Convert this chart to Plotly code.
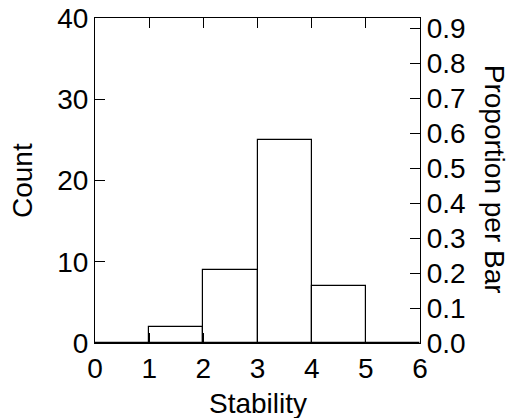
import plotly.graph_objects as go

bin_starts = [0, 1, 2, 3, 4, 5]
counts = [0, 2, 9, 25, 7, 0]
x_tick_vals = [0, 1, 2, 3, 4, 5, 6]
count_ticks = [0, 10, 20, 30, 40]
prop_ticks = [0.0, 0.1, 0.2, 0.3, 0.4, 0.5, 0.6, 0.7, 0.8, 0.9]

total = sum(counts)
centers = [b + 0.5 for b in bin_starts]
props = [c / total for c in counts]

FONT = "Liberation Sans, Arial, sans-serif"
FS = 28

fig = go.Figure()
fig.add_trace(go.Bar(
    x=centers, y=counts, width=1,
    marker=dict(color="white", line=dict(color="black", width=1.2)),
    showlegend=False, hoverinfo="skip",
))
fig.add_trace(go.Scatter(
    x=centers, y=props, yaxis="y2", mode="markers",
    marker=dict(opacity=0), showlegend=False, hoverinfo="skip",
))

fig.update_layout(
    width=512, height=418,
    margin=dict(l=95, r=92, t=18, b=75),
    paper_bgcolor="white", plot_bgcolor="white",
    font=dict(family=FONT, size=FS, color="black"),
    bargap=0,
    xaxis=dict(
        range=[0, 6], tickvals=x_tick_vals, ticks="inside", ticklen=10,
        tickcolor="black", showline=True, linecolor="black", linewidth=1.2,
        mirror="ticks", showgrid=False, zeroline=False,
        tickfont=dict(size=FS), automargin=False, ticklabelstandoff=0,
    ),
    yaxis=dict(
        range=[0, 40], tickvals=count_ticks, ticks="inside", ticklen=10,
        tickcolor="black", showline=True, linecolor="black", linewidth=1.2,
        mirror=False, showgrid=False, zeroline=False,
        tickfont=dict(size=FS), automargin=False, ticklabelstandoff=0,
    ),
    yaxis2=dict(
        overlaying="y", side="right",
        range=[0, 40 / total], tickvals=prop_ticks, tickformat=".1f",
        ticks="inside", ticklen=10, tickcolor="black",
        showline=True, linecolor="black", linewidth=1.2,
        showgrid=False, zeroline=False,
        tickfont=dict(size=FS), automargin=False,
    ),
    annotations=[
        dict(text="Stability", xref="paper", yref="paper", x=0.5, y=-0.185,
             xanchor="center", yanchor="middle", showarrow=False,
             font=dict(size=FS)),
        dict(text="Count", xref="paper", yref="paper", x=-0.223, y=0.5,
             xanchor="center", yanchor="middle", showarrow=False,
             textangle=-90, font=dict(size=FS)),
        dict(text="Proportion per Bar", xref="paper", yref="paper", x=1.228, y=0.505,
             xanchor="center", yanchor="middle", showarrow=False,
             textangle=90, font=dict(size=FS)),
    ],
)

fig.write_html(
    "out.html",
    config={"displayModeBar": False},
    post_script="document.body.style.margin='0';document.body.style.overflow='hidden';",
)
